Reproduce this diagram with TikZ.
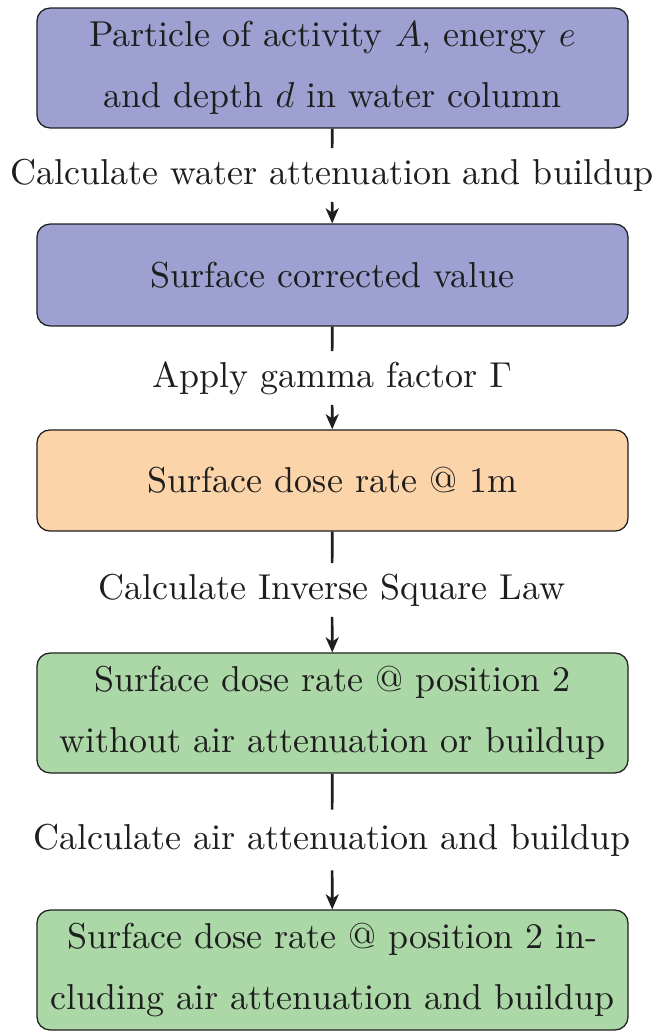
\documentclass[tikz,border=0pt]{standalone}
\usetikzlibrary{arrows.meta}
\definecolor{boxblue}{RGB}{157,160,208}
\definecolor{boxorange}{RGB}{252,212,170}
\definecolor{boxgreen}{RGB}{172,216,168}
\definecolor{ink}{RGB}{30,30,30}
\begin{document}
\begin{tikzpicture}[x=0.2778pt,y=-0.2778pt,
  stepbox/.style={draw=ink, line width=0.35pt, rounded corners=3.6pt, minimum width=164.2pt,
    text width=163pt, align=center, inner sep=0pt, font=\fontsize{10}{16.8}\selectfont, text=ink},
  lbl/.style={inner sep=0pt, minimum height=14.5pt, font=\fontsize{10}{12}\selectfont, text=ink},
  conn/.style={draw=ink, line width=0.75pt},
  arr/.style={conn, -{Stealth[length=4.2pt,width=3.6pt,inset=1.2pt]}}]
\useasboundingbox (0,0) rectangle (656,1032);
\node[stepbox, fill=boxblue, minimum height=33.3pt] (b1) at (332.5,68)
  {Particle of activity $A$, energy $e$\\and depth $d$ in water column};
\node[stepbox, fill=boxblue, minimum height=28.3pt] (b2) at (332.5,275)
  {Surface corrected value};
\node[stepbox, fill=boxorange, minimum height=28.1pt] (b3) at (332.5,480.5)
  {Surface dose rate @ 1m};
\node[stepbox, fill=boxgreen, minimum height=33.3pt] (b4) at (332.5,713)
  {Surface dose rate @ position 2\\without air attenuation or buildup};
\node[stepbox, fill=boxgreen, minimum height=33.3pt] (b5) at (332.5,970)
  {Surface dose rate @ position 2 in-\\cluding air attenuation and buildup};
\node[lbl] (l1) at (332,175) {Calculate water attenuation and buildup};
\node[lbl] (l2) at (332,378) {Apply gamma factor $\Gamma$};
\node[lbl] (l3) at (332,590) {Calculate Inverse Square Law};
\node[lbl, minimum height=16.5pt] (l4) at (332,840) {Calculate air attenuation and buildup};
\draw[conn] (b1) -- (l1);
\draw[arr] (l1) -- (b2);
\draw[conn] (b2) -- (l2);
\draw[arr] (l2) -- (b3);
\draw[conn] (b3) -- (l3);
\draw[arr] (l3) -- (b4);
\draw[conn] (b4) -- (l4);
\draw[arr] (l4) -- (b5);
\end{tikzpicture}
\end{document}
